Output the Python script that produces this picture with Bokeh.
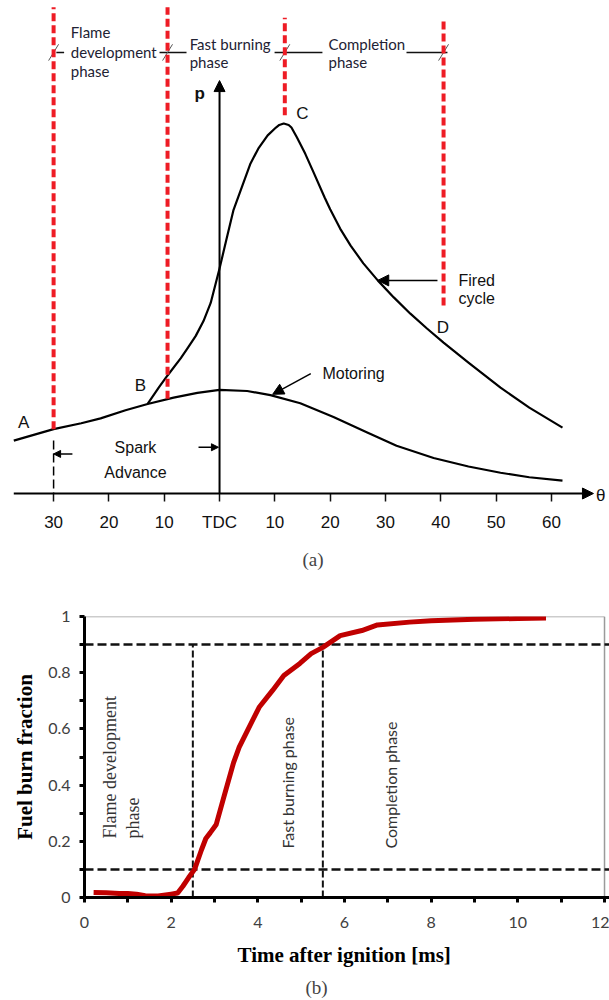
import math
from bokeh.plotting import figure
from bokeh.models import Arrow, NormalHead, FixedTicker, Title, ColumnDataSource, Range1d
from bokeh.core.properties import value
from bokeh.embed import file_html
from bokeh.resources import INLINE

# ---------------- Panel (a): pressure vs crank angle ----------------
deg_ticks = [-30, -20, -10, 0, 10, 20, 30, 40, 50, 60]
deg_tick_labels = ["30", "20", "10", "TDC", "10", "20", "30", "40", "50", "60"]

motoring_deg = [-37.2, -30, -25, -21.5, -17, -13, -8.3, -4, 0, 5, 9.2, 14.6, 20.6, 26.7, 32, 38.7, 45, 50.8, 56, 62]
motoring_p = [14.3, 17.4, 19.0, 20.3, 22.5, 24.2, 25.9, 27.2, 28.0, 27.7, 26.6, 24.4, 20.7, 16.5, 12.9, 9.6, 7.3, 5.6, 4.4, 3.5]

fired_deg = [-13, -11, -9.4, -7, -5.8, -4.3, -2.9, -1.6, 0, 1.2, 2.5, 4, 5.6, 7, 8.7, 10.2, 10.8, 11.6, 12.5, 13, 14,
             15.5, 17, 19, 20, 21.8, 23.7, 26, 28.6, 31.5, 34.5, 37.5, 40.5, 45, 50.8, 56, 62]
fired_p = [24.2, 28.6, 31.9, 36.6, 39.2, 42.6, 46.6, 51.5, 60.8, 68.4, 76.5, 82.7, 89.2, 93.2, 96.8, 98.9, 99.6, 100, 99.6,
           98.9, 96.2, 91.8, 86.8, 80.0, 76.8, 71.6, 67.0, 62.2, 57.6, 53.0, 48.6, 44.6, 40.8, 35.4, 28.6, 23.2, 17.8]

# phase boundaries (red dashed markers)
red_deg = [-30, -9.4, 11.8, 40.5]
red_top = [131.4, 131.4, 128.6, 128.1]
red_bottom = [17.4, 25.6, 102.2, 50.8]

phase_bar_p = 119.2
phase_seg_x0 = [-29.5, -10.85, 9.95, 33.8]
phase_seg_x1 = [-28.1, -5.97, 18.6, 41.2]

top_text = ["Flame", "development", "phase", "Fast burning", "phase", "Completion", "phase"]
top_x = [-26.9, -26.9, -26.9, -5.4, -5.4, 19.7, 19.7]
top_y = [124.6, 119.2, 114.1, 121.6, 116.5, 121.6, 116.5]

letters = ["A", "B", "C", "D"]
letter_x = [-35.4, -14.3, 15.0, 40.4]
letter_y = [19.2, 29.2, 102.7, 44.9]

side_text = ["Motoring", "Fired", "cycle"]
side_x = [18.6, 43.2, 43.2]
side_y = [32.4, 57.6, 52.7]

spark_text = ["Spark", "Advance"]
spark_x = [-15.2, -15.2]
spark_y = [12.5, 5.8]

spark_deg = -30
spark_dash_p = [14.3, 0]

callout_x0 = [16.5, 39.4]
callout_y0 = [32.4, 57.6]
callout_x1 = [9.6, 28.6]
callout_y1 = [26.8, 57.6]

spark_arrow_x0 = [-26.6, -3.8]
spark_arrow_y0 = [10.7, 12.5]
spark_arrow_x1 = [-30.0, -0.2]
spark_arrow_y1 = [10.7, 12.5]

axis_deg = [-37.2, 67.6]
p_axis_top = 111.6

# ---------------- Panel (b): fuel burn fraction ----------------
time_ms = [0.21, 0.5, 0.8, 1.0, 1.2, 1.4, 1.7, 2.0, 2.15, 2.27, 2.4, 2.54, 2.7, 2.8, 2.9, 3.04, 3.22, 3.44, 3.57,
           3.76, 4.03, 4.34, 4.6, 4.97, 5.23, 5.5, 5.9, 6.4, 6.76, 7.5, 8.0, 9.0, 10.0, 10.65]
burn_frac = [0.018, 0.017, 0.014, 0.014, 0.012, 0.006, 0.005, 0.012, 0.016, 0.04, 0.07, 0.1, 0.17, 0.21, 0.23, 0.26,
             0.36, 0.48, 0.535, 0.594, 0.677, 0.737, 0.79, 0.833, 0.868, 0.89, 0.932, 0.95, 0.97, 0.98, 0.985,
             0.99, 0.993, 0.995]

time_ticks = [0, 2, 4, 6, 8, 10, 12]
time_minor = [1, 3, 5, 7, 9, 11]
frac_ticks = [0, 0.2, 0.4, 0.6, 0.8, 1]
frac_minor = [0.1, 0.3, 0.5, 0.7, 0.9]
frac_labels = ["0", "0.2", "0.4", "0.6", "0.8", "1"]

burn_levels = [0.1, 0.9]
phase_bounds_ms = [2.5, 5.5]

rot_text = ["Flame development", "phase", "Fast burning  phase", "Completion phase"]
rot_x = [0.58, 1.11, 4.69, 7.05]
rot_y = [0.21, 0.21, 0.174, 0.174]

# =================== build panel (a) ===================
RED = "#ee1c25"
p1 = figure(frame_width=609, frame_height=501, x_range=Range1d(-39.6, 70.5), y_range=Range1d(-2.16, 133.24),
            min_border_left=0, min_border_right=0, min_border_top=0, min_border_bottom=89,
            toolbar_location=None, output_backend="svg", y_axis_location=None)
p1.grid.visible = False
p1.outline_line_color = None
p1.background_fill_color = "white"
p1.border_fill_color = "white"

xa = p1.xaxis[0]
xa.ticker = FixedTicker(ticks=deg_ticks)
xa.major_label_overrides = dict(zip(deg_ticks, deg_tick_labels))
xa.axis_line_color = None
xa.major_tick_out = 0
xa.major_tick_in = 8
xa.major_tick_line_width = 1.5
xa.major_tick_line_color = "#111111"
xa.minor_tick_out = 0
xa.minor_tick_in = 0
xa.major_label_text_font = "Liberation Sans"
xa.major_label_text_font_size = "17px"
xa.major_label_text_color = "#111111"
xa.major_label_standoff = 11

p1.add_layout(Title(text="(a)", align="left", text_font="Liberation Serif", text_font_size="19px",
                    text_font_style="normal", offset=302, standoff=25), "below")

# curves
p1.line(motoring_deg, motoring_p, line_color="black", line_width=2.2, line_join="round")
p1.line(fired_deg, fired_p, line_color="black", line_width=2.2, line_join="round")

# axes drawn as arrows
axis_src = ColumnDataSource(dict(x0=[axis_deg[0], 0], y0=[0, 0], x1=[axis_deg[1], 0], y1=[0, p_axis_top]))
p1.add_layout(Arrow(end=NormalHead(size=11, fill_color="black", line_color="black"),
                    x_start="x0", y_start="y0", x_end="x1", y_end="y1", source=axis_src,
                    line_color="black", line_width=2))

# spark advance dashed
p1.line([spark_deg, spark_deg], spark_dash_p, line_color="black", line_width=1.5, line_dash="9 4")

# callout arrows
call_src = ColumnDataSource(dict(x0=callout_x0, y0=callout_y0, x1=callout_x1, y1=callout_y1))
p1.add_layout(Arrow(end=NormalHead(size=11, fill_color="black", line_color="black"),
                    x_start="x0", y_start="y0", x_end="x1", y_end="y1", source=call_src,
                    line_color="black", line_width=1.5))
sp_src = ColumnDataSource(dict(x0=spark_arrow_x0, y0=spark_arrow_y0, x1=spark_arrow_x1, y1=spark_arrow_y1))
p1.add_layout(Arrow(end=NormalHead(size=7, fill_color="black", line_color="black"),
                    x_start="x0", y_start="y0", x_end="x1", y_end="y1", source=sp_src,
                    line_color="black", line_width=1.5))

# phase bar segments and slashes
p1.segment(x0=phase_seg_x0, y0=[phase_bar_p] * 4, x1=phase_seg_x1, y1=[phase_bar_p] * 4,
           line_color="#111111", line_width=1.5)
p1.segment(x0=[d - 0.9 for d in red_deg], y0=[phase_bar_p - 2.2] * 4,
           x1=[d + 0.9 for d in red_deg], y1=[phase_bar_p + 2.2] * 4,
           line_color="#555555", line_width=1)

# red dashed phase lines
p1.segment(x0=red_deg, y0=red_bottom, x1=red_deg, y1=red_top, line_color=RED, line_width=4, line_dash="8 4")

# texts
p1.text(top_x, top_y, text=top_text, text_font=value("Lato"), text_font_size="15px", text_color="#222233",
        text_align="left", text_baseline="middle")
p1.text(letter_x, letter_y, text=letters, text_font=value("Liberation Sans"), text_font_size="17px",
        text_color="#111111", text_align="center", text_baseline="middle")
p1.text(side_x, side_y, text=side_text, text_font=value("Liberation Sans"), text_font_size="16px",
        text_color="#111111", text_align="left", text_baseline="middle")
p1.text(spark_x, spark_y, text=spark_text, text_font=value("Liberation Sans"), text_font_size="16px",
        text_color="#111111", text_align="center", text_baseline="middle")
p1.text([-3.6], [108], text=["p"], text_font=value("Liberation Sans"), text_font_size="17px",
        text_font_style="bold", text_color="#111111", text_align="center", text_baseline="middle")
p1.text([68.9], [-0.5], text=["θ"], text_font=value("Liberation Sans"), text_font_size="17px",
        text_color="#111111", text_align="center", text_baseline="middle")

# =================== build panel (b) ===================
p2 = figure(frame_width=525, frame_height=281, x_range=Range1d(0, 12.115), y_range=Range1d(0, 1),
            min_border_left=84, min_border_right=0, min_border_top=26, min_border_bottom=104,
            toolbar_location=None, output_backend="svg")
p2.grid.visible = False
p2.outline_line_color = None

for ax, ticks, minor in ((p2.xaxis[0], time_ticks, time_minor), (p2.yaxis[0], frac_ticks, frac_minor)):
    ax.ticker = FixedTicker(ticks=ticks, minor_ticks=minor)
    ax.axis_line_width = 3
    ax.axis_line_color = "black"
    ax.major_tick_out = 5
    ax.major_tick_in = 0
    ax.major_tick_line_width = 3
    ax.minor_tick_out = 5
    ax.minor_tick_in = 0
    ax.minor_tick_line_width = 3
    ax.major_label_text_font = "Lato"
    ax.major_label_text_font_size = "16px"
    ax.major_label_text_color = "#404040"
    ax.axis_label_text_font = "Liberation Serif"
    ax.axis_label_text_font_style = "bold"
    ax.axis_label_text_font_size = "21px"
    ax.axis_label_text_color = "black"

p2.yaxis[0].major_label_overrides = dict(zip(frac_ticks, frac_labels))
p2.yaxis[0].major_label_standoff = 9
p2.yaxis[0].axis_label = "Fuel burn fraction"
p2.yaxis[0].axis_label_standoff = 8
p2.xaxis[0].major_label_standoff = 14
p2.xaxis[0].axis_label = "Time after ignition  [ms]"
p2.xaxis[0].axis_label_standoff = 12

p2.add_layout(Title(text="(b)", align="left", text_font="Liberation Serif", text_font_size="19px",
                    text_font_style="normal", offset=221, standoff=10), "below")

# frame top/right
p2.segment(x0=[0, 12], y0=[1, 0], x1=[12, 12], y1=[1, 1], line_color="#9a9a9a", line_width=1.5)

# dashed reference lines
p2.segment(x0=[0, 0], y0=burn_levels, x1=[12.115, 12.115], y1=burn_levels,
           line_color="#111111", line_width=2.5, line_dash="9 4")
p2.segment(x0=phase_bounds_ms, y0=[0, 0], x1=phase_bounds_ms, y1=[burn_levels[1]] * 2,
           line_color="#111111", line_width=2, line_dash="7 3")

p2.line(time_ms, burn_frac, line_color="#c00000", line_width=5, line_join="round")

p2.text(rot_x[:2], rot_y[:2], text=rot_text[:2], angle=math.pi / 2, text_font=value("Liberation Serif"),
        text_font_size="18px", text_color="#333333", text_align="left", text_baseline="middle")
p2.text(rot_x[2:], rot_y[2:], text=rot_text[2:], angle=math.pi / 2, text_font=value("Lato"),
        text_font_size="16px", text_color="#333333", text_align="left", text_baseline="middle")

open("out.html", "w").write(file_html([p1, p2], INLINE))
